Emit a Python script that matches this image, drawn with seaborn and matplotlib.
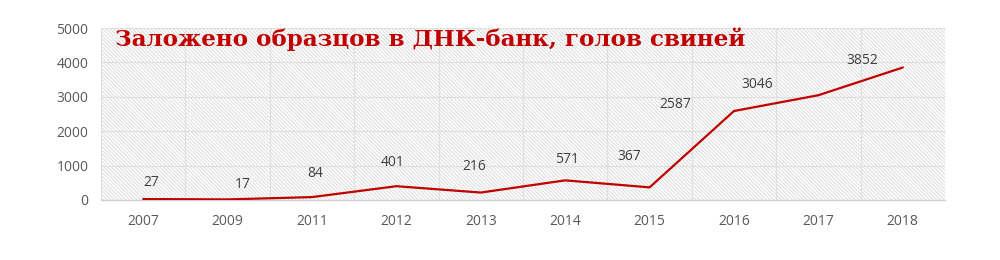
import matplotlib
matplotlib.use("Agg")
import matplotlib.pyplot as plt
import seaborn as sns
import numpy as np
import pandas as pd
from matplotlib.patches import Rectangle

years = ["2007", "2009", "2011", "2012", "2013", "2014", "2015", "2016", "2017", "2018"]
values = [27, 17, 84, 401, 216, 571, 367, 2587, 3046, 3852]
title = "Заложено образцов в ДНК-банк, голов свиней"
yticks = [0, 1000, 2000, 3000, 4000, 5000]
# label offsets in points (dx, dy)
label_offsets = [(6, 12), (11, 11), (2, 17), (-3, 17), (-5, 19), (1, 15), (-15, 22), (-42, 5), (-44, 8), (-29, 5)]

sns.set_theme(style="white")
plt.rcParams["font.family"] = ["Open Sans", "DejaVu Sans"]
plt.rcParams["hatch.linewidth"] = 0.6
plt.rcParams["hatch.color"] = "#d6d6d6"

fig = plt.figure(figsize=(10, 2.6), dpi=100)
fig.patch.set_facecolor("white")
ax = fig.add_axes([0.101, 0.2308, 0.844, 0.6615])

df = pd.DataFrame({"pos": np.arange(len(years)), "val": values})

ax.add_patch(Rectangle((0, 0), 1, 1, transform=ax.transAxes, facecolor="white",
                       edgecolor="#d6d6d6", hatch="\\" * 9, linewidth=0, zorder=0))

sns.lineplot(data=df, x="pos", y="val", ax=ax, color="#C00000", linewidth=1.6, zorder=3)

ax.set_xlim(-0.5, len(years) - 0.5)
ax.set_ylim(0, 5000)
ax.set_yticks(yticks)
ax.set_yticklabels([str(t) for t in yticks], color="#595959", fontsize=10)
ax.set_xticks(np.arange(len(years)))
ax.set_xticklabels(years, color="#595959", fontsize=10)
ax.tick_params(axis="x", pad=10, length=0)
ax.tick_params(axis="y", pad=9, length=0)
ax.set_xlabel("")
ax.set_ylabel("")

for b in np.arange(len(years) + 1) - 0.5:
    ax.axvline(b, color="#e0e0e0", linewidth=0.9, zorder=1)
for t in yticks[1:]:
    ax.axhline(t, color="#e0e0e0", linewidth=0.9, zorder=1)

for s in ["top", "right", "left"]:
    ax.spines[s].set_visible(False)
ax.spines["bottom"].set_color("#d0d0d0")
ax.spines["bottom"].set_linewidth(1)

for i, (v, off) in enumerate(zip(values, label_offsets)):
    ax.annotate(str(v), (i, v), xytext=off, textcoords="offset points",
                ha="center", va="center", fontsize=10, color="#404040", zorder=4)

ax.text(0.016, 0.935, title, transform=ax.transAxes, fontsize=16.6, fontweight="bold",
        family=["DejaVu Serif"], color="#C00000", va="center", ha="left", zorder=5)

fig.savefig("out.png", dpi=100, facecolor="white")
